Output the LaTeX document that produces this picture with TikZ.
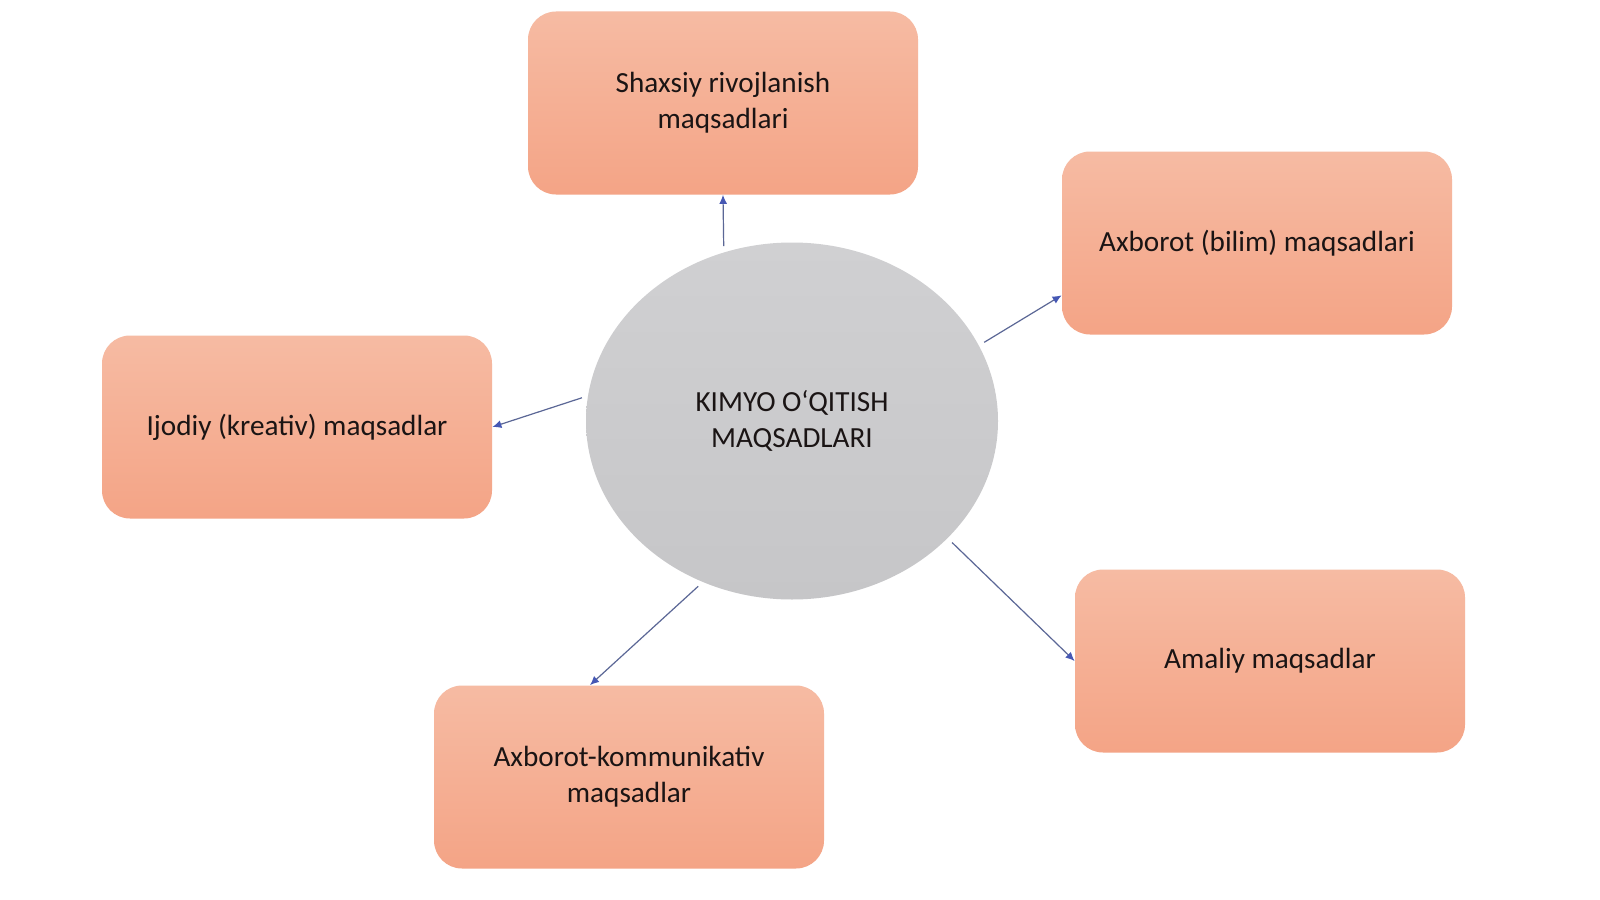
\documentclass[tikz,border=0pt]{standalone}
\usepackage{fontspec}
\setmainfont{Carlito}
\usetikzlibrary{shapes.geometric,arrows.meta}
\definecolor{boxtop}{HTML}{F6BBA3}
\definecolor{boxbot}{HTML}{F4A486}
\definecolor{ellgray}{HTML}{C6C6C8}
\definecolor{ellgraylt}{HTML}{D0D0D2}
\definecolor{arrline}{HTML}{5B6796}
\definecolor{arrhead}{HTML}{4658B4}
\definecolor{txt}{HTML}{1A1414}
\begin{document}
\begin{tikzpicture}[x=0.5pt,y=-0.5pt,
  goalbox/.style={rectangle, rounded corners=14pt, minimum width=195pt, minimum height=91.5pt,
    top color=boxtop, bottom color=boxbot, draw=none, align=center, text=txt,
    font=\fontsize{14.6}{18}\selectfont, inner sep=0pt},
  centre/.style={ellipse, minimum width=206pt, minimum height=178.5pt, inner sep=0pt,
    top color=ellgraylt, bottom color=ellgray, draw=none, align=center, text=txt,
    font=\fontsize{14.6}{18}\selectfont},
  link/.style={draw=arrline, line width=0.6pt, shorten <=3pt,
    -{Latex[length=4.5pt,width=4pt,color=arrhead]}}]
\useasboundingbox[fill=white] (0,0) rectangle (1600,899);
\node[centre] (c) at (792,421) {KIMYO O‘QITISH\\MAQSADLARI};
\node[goalbox] (top) at (723,103) {Shaxsiy rivojlanish\\maqsadlari};
\node[goalbox] (rtop) at (1257,243) {Axborot (bilim) maqsadlari};
\node[goalbox] (left) at (297,427) {Ijodiy (kreativ) maqsadlar};
\node[goalbox] (rbot) at (1270,661) {Amaliy maqsadlar};
\node[goalbox] (bot) at (629,777) {Axborot-kommunikativ\\maqsadlar};
\draw[link] (c.112) -- (top.south);
\draw[link] (c.22.5) -- (rtop.195);
\draw[link] (c.173.4) -- (left.east);
\draw[link] (c.241.7) -- (bot.113.5);
\draw[link] (c.-37.3) -- (rbot.west);
\end{tikzpicture}
\end{document}
